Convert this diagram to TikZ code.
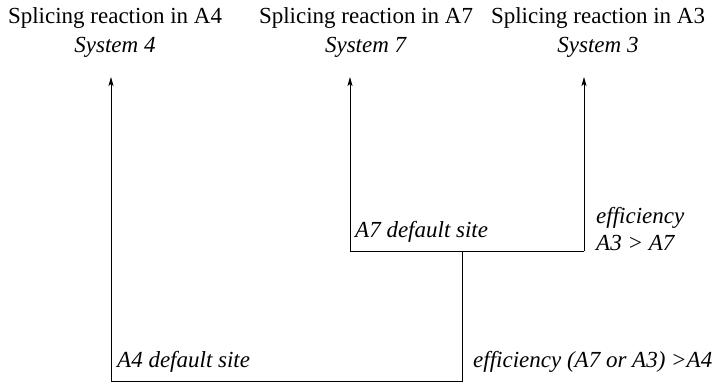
\documentclass[tikz,border=0pt]{standalone}
\usepackage{fontspec}
\setmainfont{Liberation Serif}
\usetikzlibrary{arrows.meta}

\tikzset{
  wire/.style={line width=0.8pt},
  uparrow/.style={wire,-{Stealth[length=9pt,width=5pt,inset=2pt]}},
  title/.style={align=center,inner sep=0pt},
  note/.style={anchor=west,align=left,inner sep=0pt,font=\fontsize{23}{27}\selectfont\itshape}
}

\begin{document}
\begin{tikzpicture}[x=1pt,y=-1pt,font=\fontsize{23}{29}\selectfont]
\useasboundingbox (0,0) rectangle (716,385);

% reactions on top
\node[title] (r4) at (115,33) {Splicing reaction in A4\\\textit{System 4}};
\node[title] (r7) at (366,33) {Splicing reaction in A7\\\textit{System 7}};
\node[title] (r3) at (598,33) {Splicing reaction in A3\\\textit{System 3}};

\coordinate (t4) at (111,77);
\coordinate (t7) at (350,77);
\coordinate (t3) at (584,77);

% A7 / A3 branch
\coordinate (b7) at (350,251);
\coordinate (b3) at (584,251);
\coordinate (m) at (462,251);
\draw[uparrow] (b3) -- (b7) -- (t7);
\draw[uparrow] (b3) -- (t3);

% A4 branch
\coordinate (b4) at (111,381);
\coordinate (j) at (462,381);
\draw[uparrow] (m) -- (j) -- (b4) -- (t4);

% labels
\node[note] (d7) at (355,232) {A7 default site};
\node[note] (e7) at (596,229) {efficiency\\A3 > A7};
\node[note] (d4) at (117,362) {A4 default site};
\node[note] (e4) at (473,362) {efficiency (A7 or A3) >A4};
\end{tikzpicture}
\end{document}
